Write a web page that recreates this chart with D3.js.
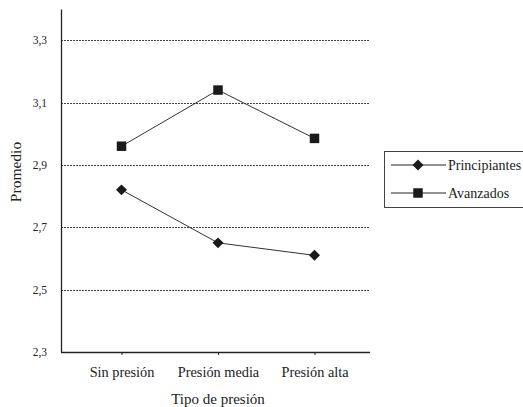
<!DOCTYPE html>
<html><head><meta charset="utf-8">
<script src="https://cdn.jsdelivr.net/npm/d3@7"></script>
<style>body{margin:0;background:#fff}svg{display:block}</style>
</head><body><svg id="c" width="523" height="407"></svg>
<script>
const categories = ["Sin presión", "Presión media", "Presión alta"];
const principiantes = [2.82, 2.65, 2.61];
const avanzados = [2.96, 3.14, 2.985];
const yTicks = [2.3, 2.5, 2.7, 2.9, 3.1, 3.3];
const yTickLabels = ["2,3", "2,5", "2,7", "2,9", "3,1", "3,3"];
const seriesNames = ["Principiantes", "Avanzados"];

const FONT = "Liberation Serif";
const svg = d3.select("#c");
const L = 61, R = 370, T = 9, B = 352;
const y = d3.scaleLinear().domain([2.3, 3.4]).range([B, T]);
const x = d3.scalePoint().domain(categories).range([121.5, 314.5]);

svg.append("g").selectAll("line").data(yTicks.slice(1)).join("line")
  .attr("x1", L).attr("x2", R).attr("y1", d => Math.round(y(d)) + 0.5).attr("y2", d => Math.round(y(d)) + 0.5)
  .attr("stroke", "#444").attr("stroke-width", 1).attr("stroke-dasharray", "2,1");

const yAxis = d3.axisLeft(y).tickValues(yTicks).tickFormat((d, i) => yTickLabels[i]).tickSize(0).tickPadding(14);
const gy = svg.append("g").attr("transform", `translate(${L},0)`).call(yAxis)
  .attr("font-family", FONT).attr("font-size", 11.5);
gy.select(".domain").attr("stroke", "#222").attr("stroke-width", 1.3);
gy.selectAll("text").attr("fill", "#222");

const xAxis = d3.axisBottom(x).tickSize(3).tickPadding(12).tickSizeOuter(0);
const gx = svg.append("g").attr("transform", `translate(0,${B})`).call(xAxis)
  .attr("font-family", FONT).attr("font-size", 14.3);
gx.select(".domain").attr("d", `M${L},0.5H${R}`).attr("stroke", "#222").attr("stroke-width", 1.3);
gx.selectAll(".tick line").attr("stroke", "#222");
gx.selectAll("text").attr("fill", "#222");

svg.append("text").attr("x", 218).attr("y", 404).attr("text-anchor", "middle")
  .attr("font-family", FONT).attr("font-size", 15).attr("fill", "#222").text("Tipo de presión");
svg.append("text").attr("transform", "translate(21,172) rotate(-90)").attr("text-anchor", "middle")
  .attr("font-family", FONT).attr("font-size", 15.5).attr("fill", "#222").text("Promedio");

const line = d3.line().x((d, i) => x(categories[i])).y(d => y(d));
const sqSym = d3.symbol().type(d3.symbolSquare).size(90);
const dmSym = d3.symbol().type(d3.symbolSquare).size(60);

function drawSeries(vals, sym, rot) {
  svg.append("path").datum(vals).attr("d", line).attr("fill", "none").attr("stroke", "#333").attr("stroke-width", 1);
  svg.append("g").selectAll("path").data(vals).join("path")
    .attr("transform", (d, i) => `translate(${x(categories[i])},${y(d)}) rotate(${rot})`)
    .attr("d", sym).attr("fill", "#1a1a1a");
}
drawSeries(principiantes, dmSym, 45);
drawSeries(avanzados, sqSym, 0);

const lg = svg.append("g");
lg.append("rect").attr("x", 384.5).attr("y", 151.5).attr("width", 150).attr("height", 56)
  .attr("fill", "#fff").attr("stroke", "#444").attr("stroke-width", 1);
const items = [{name: seriesNames[0], sym: dmSym, rot: 45}, {name: seriesNames[1], sym: sqSym, rot: 0}];
const ly = d3.scalePoint().domain(seriesNames).range([165, 193]);
items.forEach(it => {
  const yy = ly(it.name);
  lg.append("line").attr("x1", 391).attr("x2", 446).attr("y1", yy).attr("y2", yy).attr("stroke", "#222").attr("stroke-width", 1);
  lg.append("path").attr("d", it.sym).attr("transform", `translate(418,${yy}) rotate(${it.rot})`).attr("fill", "#1a1a1a");
  lg.append("text").attr("x", 448).attr("y", yy).attr("dy", "0.35em").attr("font-family", FONT).attr("font-size", 14)
    .attr("fill", "#222").text(it.name);
});
</script>
</body></html>
